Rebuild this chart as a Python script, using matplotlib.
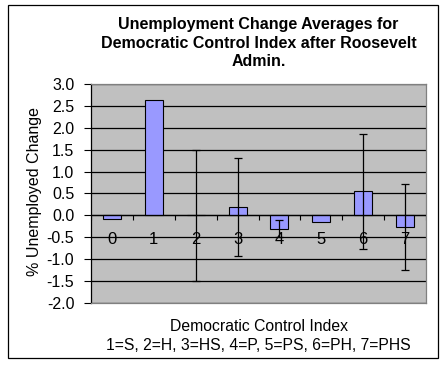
import matplotlib
matplotlib.use("Agg")
import matplotlib.pyplot as plt
from matplotlib.patches import Rectangle
import numpy as np

plt.rcParams['font.family'] = ['Liberation Sans', 'DejaVu Sans']

categories = ['0', '1', '2', '3', '4', '5', '6', '7']
values = [-0.09, 2.64, 0.0, 0.20, -0.30, -0.16, 0.55, -0.27]
errors = [0.0, 0.0, 1.5, 1.12, 0.19, 0.0, 1.31, 0.98]
yticks = [3.0, 2.5, 2.0, 1.5, 1.0, 0.5, 0.0, -0.5, -1.0, -1.5, -2.0]

title = "Unemployment Change Averages for\nDemocratic Control Index after Roosevelt\nAdmin."
xlabel = "Democratic Control Index\n1=S, 2=H, 3=HS, 4=P, 5=PS, 6=PH, 7=PHS"
ylabel = "% Unemployed Change"

W, H = 448, 367
fig = plt.figure(figsize=(W / 100, H / 100), dpi=100)
fig.patch.set_facecolor('white')

# outer chart frame
fig.patches.append(Rectangle((8 / W, 1 - 358 / H), 430 / W, 353 / H,
                             transform=fig.transFigure, fill=False,
                             edgecolor='black', lw=0.9, zorder=-1))

ax = fig.add_axes([91 / W, 1 - 303 / H, 335 / W, 219 / H])
ax.set_facecolor('#C0C0C0')
x = np.arange(len(categories))
ax.set_xlim(-0.5, len(categories) - 0.5)
ax.set_ylim(-2.0, 3.0)
ax.set_yticks(yticks)
ax.set_yticklabels([f"{v:.1f}" for v in yticks], fontsize=11.5)
ax.yaxis.grid(True, color='black', lw=0.9)
ax.set_axisbelow(True)
ax.tick_params(axis='y', direction='out', length=5, width=0.8, pad=7)
ax.set_xticks([])

for s in ['top', 'right', 'bottom']:
    ax.spines[s].set_color('#808080')
    ax.spines[s].set_linewidth(0.9)
ax.spines['left'].set_color('black')
ax.spines['left'].set_linewidth(0.9)

ax.bar(x, values, width=0.43, color='#9999FF', edgecolor='black', lw=0.8, zorder=3)

ax.axhline(0, color='black', lw=0.9, zorder=4)
ax.vlines(np.arange(len(categories) + 1) - 0.5, -0.11, 0, color='black', lw=0.8, zorder=4)

err = np.array(errors)
mask = err > 0
ax.errorbar(x[mask], np.array(values)[mask], yerr=err[mask], fmt='none',
            ecolor='black', elinewidth=0.9, capsize=3.2, capthick=0.9, zorder=5)

for xi, c in zip(x, categories):
    ax.text(xi, -0.56, c, ha='center', va='center', fontsize=12, zorder=6)

fig.text(258.5 / W, 1 - 43 / H, title, ha='center', va='center',
         fontsize=11.5, fontweight='bold', linespacing=1.25)
fig.text(258.5 / W, 1 - 336 / H, xlabel, ha='center', va='center',
         fontsize=11.3, linespacing=1.3)
fig.text(35 / W, 1 - 191 / H, ylabel, ha='center', va='center',
         rotation=90, fontsize=11.5)

fig.savefig('out.png', dpi=100, facecolor='white')
